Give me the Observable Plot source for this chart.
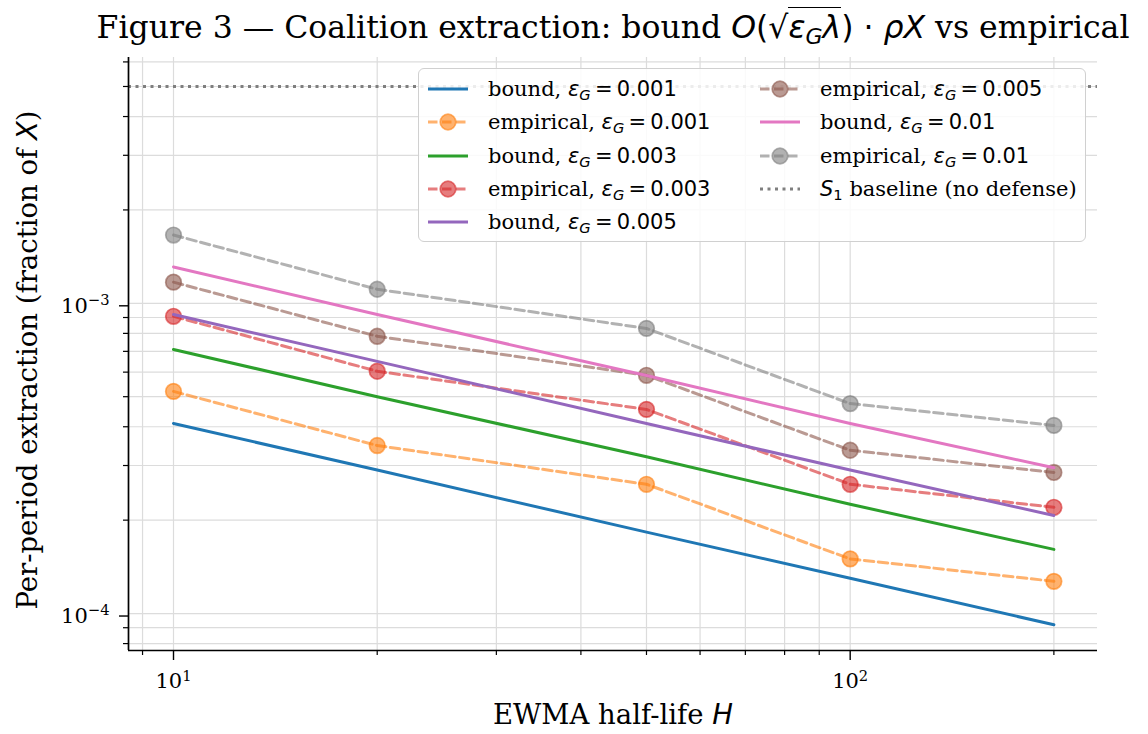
<!DOCTYPE html>
<html><head><meta charset="utf-8">
<script src="https://cdn.jsdelivr.net/npm/d3@7"></script>
<script src="https://cdn.jsdelivr.net/npm/@observablehq/plot@0.6"></script>
<style>
body{margin:0;background:white;}
#wrap{position:relative;width:1148px;height:734px;overflow:hidden;background:white;}
.m{font-family:"DejaVu Sans";font-style:italic;}
.mu{font-family:"DejaVu Sans";font-style:normal;}
sub{font-size:70%;vertical-align:-0.25em;line-height:0;}
#title{position:absolute;left:0;width:1226px;top:9px;text-align:center;font-family:"DejaVu Serif";font-size:31.5px;white-space:nowrap;color:#000;line-height:1.2;}
#xlabel{position:absolute;left:0;width:1226px;top:698px;text-align:center;font-family:"DejaVu Serif";font-size:27.5px;white-space:nowrap;line-height:1.2;}
#ylabel{position:absolute;left:27px;top:360px;transform:translate(-50%,-50%) rotate(-90deg);font-family:"DejaVu Serif";font-size:27.5px;white-space:nowrap;line-height:1.2;}
#legend{position:absolute;left:418px;top:68px;width:666px;height:172px;border:1.5px solid #d0d0d0;border-radius:6px;background:rgba(255,255,255,0.85);}
.item{position:absolute;height:28px;display:flex;align-items:center;font-family:"DejaVu Serif";font-size:21px;white-space:nowrap;}
.item svg{margin-right:19px;}
</style>
</head><body>
<div id="wrap">
<div id="plot"></div>
<div id="title">Figure 3 — Coalition extraction: bound <span class="m">O</span><span class="mu">(√</span><span style="border-top:1.8px solid #000;padding-top:1px"><span class="m">ε<sub>G</sub>λ</span></span><span class="mu">) · </span><span class="m">ρX</span> vs empirical</div>
<div id="xlabel">EWMA half-life <span class="m">H</span></div>
<div id="ylabel">Per-period extraction (fraction of <span class="m">X</span>)</div>
<div id="legend"></div>
</div>
<script>
// Data
const H = [10, 20, 50, 100, 200];
const epsLabels = ["0.001", "0.003", "0.005", "0.01"];
const bound001 = [4.1e-4, 2.9e-4, 1.83e-4, 1.3e-4, 9.2e-5];
const bound003 = [7.1e-4, 5.0e-4, 3.2e-4, 2.25e-4, 1.61e-4];
const bound005 = [9.2e-4, 6.5e-4, 4.1e-4, 2.9e-4, 2.07e-4];
const bound010 = [1.31e-3, 9.2e-4, 5.85e-4, 4.1e-4, 2.95e-4];
const emp001 = [5.2e-4, 3.48e-4, 2.61e-4, 1.5e-4, 1.27e-4];
const emp003 = [9.08e-4, 6.04e-4, 4.55e-4, 2.61e-4, 2.2e-4];
const emp005 = [1.17e-3, 7.83e-4, 5.86e-4, 3.36e-4, 2.85e-4];
const emp010 = [1.66e-3, 1.11e-3, 8.3e-4, 4.75e-4, 4.04e-4];
const baselineS1 = 5.0e-3;
const xMajorTicks = [10, 100];
const xMinorTicks = [9, 20, 30, 40, 50, 60, 70, 80, 90, 200];
const yMajorTicks = [1e-4, 1e-3];
const yMinorTicks = [8e-5, 9e-5, 2e-4, 3e-4, 4e-4, 5e-4, 6e-4, 7e-4, 8e-4, 9e-4, 2e-3, 3e-3, 4e-3, 5e-3, 6e-3];

const boundColors = ["#1f77b4", "#2ca02c", "#9467bd", "#e377c2"];
const empColors = ["#ff7f0e", "#d62728", "#8c564b", "#7f7f7f"];
const bounds = [bound001, bound003, bound005, bound010];
const emps = [emp001, emp003, emp005, emp010];

const xDomain = [8.58, 232];
const yDomain = [7.6e-5, 6.2e-3];

const LW = 3;
const toRows = vals => H.map((h, i) => ({H: h, v: vals[i]}));
const seriesMarks = [];
for (let k = 0; k < 4; k++) {
  seriesMarks.push(Plot.line(toRows(bounds[k]), {x: "H", y: "v", stroke: boundColors[k], strokeWidth: LW}));
  seriesMarks.push(Plot.line(toRows(emps[k]), {x: "H", y: "v", stroke: empColors[k], strokeWidth: LW, strokeOpacity: 0.6, strokeDasharray: "9.5,4.5"}));
  seriesMarks.push(Plot.dot(toRows(emps[k]), {x: "H", y: "v", r: 7.8, fill: empColors[k], fillOpacity: 0.6, stroke: empColors[k], strokeOpacity: 0.6, strokeWidth: 1.7}));
}

const gridStyle = {stroke: "#dcdcdc", strokeOpacity: 1, strokeWidth: 1.2};
const chart = Plot.plot({
  width: 1148, height: 734,
  marginTop: 57, marginBottom: 84, marginLeft: 128, marginRight: 51,
  x: {type: "log", domain: xDomain},
  y: {type: "log", domain: yDomain},
  style: {fontFamily: "DejaVu Serif", fontSize: "21px", background: "transparent", color: "black"},
  marks: [
    Plot.gridX([...xMajorTicks, ...xMinorTicks], gridStyle),
    Plot.gridY([...yMajorTicks, ...yMinorTicks], gridStyle),
    ...seriesMarks,
    Plot.ruleY([baselineS1], {stroke: "#7f7f7f", strokeWidth: 3, strokeDasharray: "3,4.5"}),
    Plot.axisX(xMajorTicks, {tickSize: 10, tickPadding: 13, strokeWidth: 1.4, fontSize: 21, tickFormat: d => "10^" + Math.round(Math.log10(d)), label: null}),
    Plot.axisX(xMinorTicks, {tickSize: 5, strokeWidth: 1.2, tickFormat: () => "", label: null}),
    Plot.axisY(yMajorTicks, {tickSize: 9, tickPadding: 10, dy: 2.5, strokeWidth: 1.4, fontSize: 21, tickFormat: d => "10^" + Math.round(Math.log10(d)), label: null}),
    Plot.axisY(yMinorTicks, {tickSize: 5, strokeWidth: 1.2, tickFormat: () => "", label: null}),
    Plot.ruleX([xDomain[0]], {strokeWidth: 1.7}),
    Plot.ruleY([yDomain[0]], {strokeWidth: 1.7})
  ]
});
document.getElementById("plot").appendChild(chart);

// superscripts for tick labels
d3.select(chart).selectAll("text").each(function() {
  const t = this.textContent;
  const m = /^10\^(-?\d+)$/.exec(t);
  if (!m) return;
  const sel = d3.select(this);
  sel.text("");
  sel.append("tspan").text("10");
  sel.append("tspan").attr("dy", "-0.5em").attr("font-size", "70%").text(m[1].replace("-", "\u2212"));
});

// legend
const legend = document.getElementById("legend");
const items = [];
for (let k = 0; k < 4; k++) {
  items.push({kind: "bound", color: boundColors[k], eps: epsLabels[k]});
  items.push({kind: "empirical", color: empColors[k], eps: epsLabels[k]});
}
items.push({kind: "baseline"});
items.forEach((it, i) => {
  const col = i < 5 ? 0 : 1;
  const row = i < 5 ? i : i - 5;
  const div = document.createElement("div");
  div.className = "item";
  div.style.left = (col === 0 ? 8 : 340) + "px";
  div.style.top = (6 + row * 33.3) + "px";
  let sw;
  if (it.kind === "bound") {
    sw = `<svg width="42" height="20"><line x1="1" x2="41" y1="10" y2="10" stroke="${it.color}" stroke-width="${LW}"/></svg>`;
  } else if (it.kind === "empirical") {
    sw = `<svg width="42" height="20"><line x1="1" x2="41" y1="10" y2="10" stroke="${it.color}" stroke-opacity="0.6" stroke-width="${LW}" stroke-dasharray="9.5,4.5"/><circle cx="21" cy="10" r="7.8" fill="${it.color}" fill-opacity="0.6" stroke="${it.color}" stroke-opacity="0.6" stroke-width="1.7"/></svg>`;
  } else {
    sw = `<svg width="42" height="20"><line x1="1" x2="41" y1="10" y2="10" stroke="#7f7f7f" stroke-width="${LW}" stroke-dasharray="3,4.5"/></svg>`;
  }
  const txt = it.kind === "baseline"
    ? `<span class="m">S</span><sub class="mu">1</sub>&nbsp;baseline (no defense)`
    : `${it.kind},&nbsp;<span class="m">ε<sub>G</sub></span><span class="mu">&thinsp;=&thinsp;${it.eps}</span>`;
  div.innerHTML = sw + `<span>${txt}</span>`;
  legend.appendChild(div);
});
</script>
</body></html>
